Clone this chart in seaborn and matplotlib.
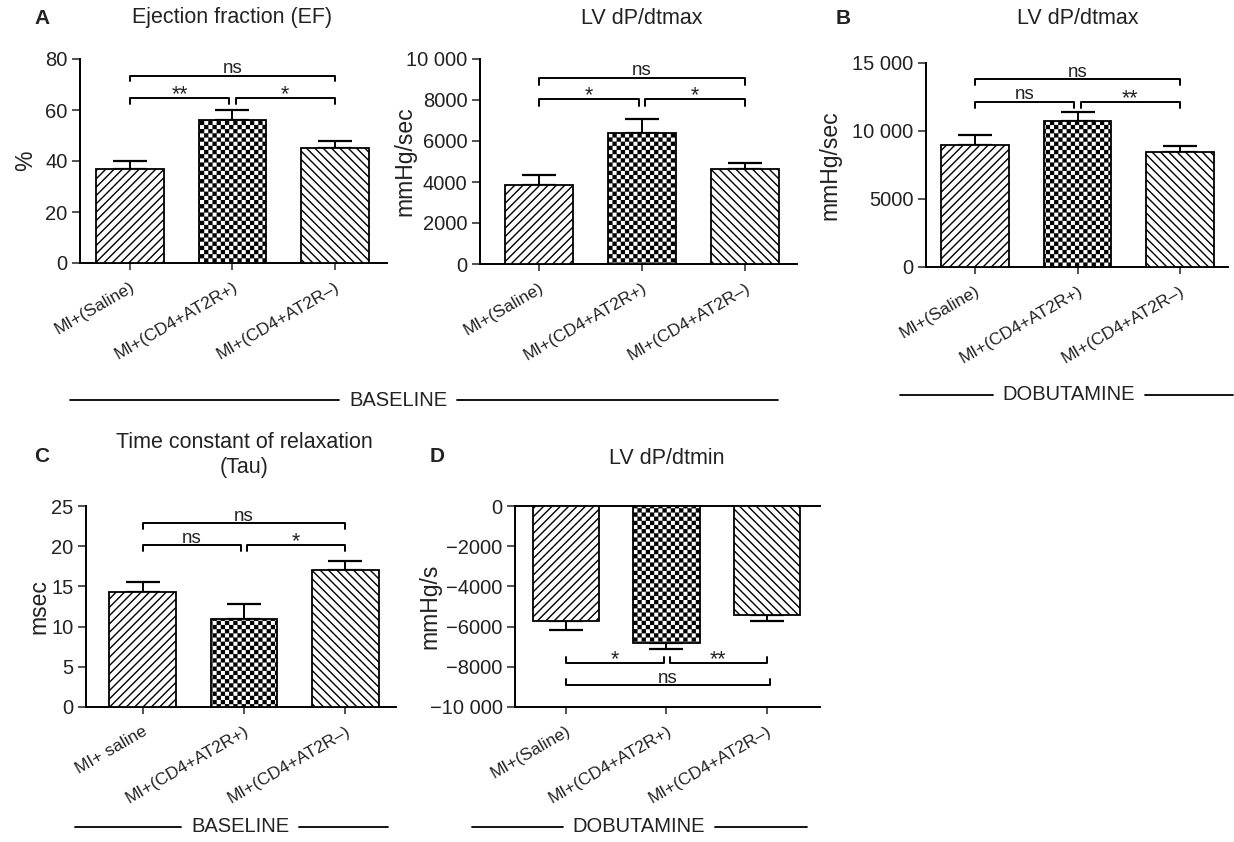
import warnings
import numpy as np
import pandas as pd
import matplotlib
matplotlib.use("Agg")
import matplotlib.pyplot as plt
from matplotlib import hatch as mhatch
from matplotlib import transforms
from matplotlib.path import Path
from matplotlib.lines import Line2D
import seaborn as sns

warnings.filterwarnings("ignore")

# ---------------------------------------------------------------------------
# data (mean and SEM)
groups = ["MI+(Saline)", "MI+(CD4+AT2R+)", "MI+(CD4+AT2R–)"]
groups_tau = ["MI+ saline", "MI+(CD4+AT2R+)", "MI+(CD4+AT2R–)"]

ef_mean = [37, 56, 45]
ef_sem = [3, 4, 3]

dpmax_base_mean = [3840, 6390, 4630]
dpmax_base_sem = [500, 700, 300]

dpmax_dob_mean = [8950, 10710, 8460]
dpmax_dob_sem = [730, 690, 440]

tau_mean = [14.3, 11.0, 17.0]
tau_sem = [1.2, 1.85, 1.2]

dpmin_dob_mean = [-5710, -6820, -5410]
dpmin_dob_sem = [450, 300, 300]

# significance annotations: (label, from, to, height)
sig_ef = [("**", 0, 0.97, 64.7), ("*", 1.03, 2, 64.7), ("ns", 0, 2, 73.5)]
sig_dpmax_base = [("*", 0, 0.97, 8050), ("*", 1.03, 2, 8050), ("ns", 0, 2, 9060)]
sig_dpmax_dob = [("ns", 0, 0.97, 12130), ("**", 1.03, 2, 12130), ("ns", 0, 2, 13800)]
sig_tau = [("ns", 0, 0.97, 20.1), ("*", 1.03, 2, 20.1), ("ns", 0, 2, 22.85)]
sig_dpmin_dob = [("*", 0, 0.98, -7815), ("**", 1.03, 2, -7815), ("ns", 0, 2.03, -8924)]


# ---------------------------------------------------------------------------
# checkerboard hatch ('c'), matplotlib has none built in
class CheckerHatch(mhatch.HatchPatternBase):
    def __init__(self, hatch, density):
        n = hatch.count("c") * density
        self.n = n + (n % 2)
        self.num_vertices = (self.n * self.n // 2) * 5

    def set_vertices_and_codes(self, vertices, codes):
        s = 1.0 / self.n
        pad = s * 0.15
        verts = []
        for i in range(self.n):
            for j in range(self.n):
                if (i + j) % 2 == 0:
                    x0, y0 = i * s + pad, j * s + pad
                    x1, y1 = (i + 1) * s - pad, (j + 1) * s - pad
                    verts += [(x0, y0), (x1, y0), (x1, y1), (x0, y1), (x0, y0)]
        vertices[:] = verts
        codes[:] = [Path.MOVETO, Path.LINETO, Path.LINETO, Path.LINETO,
                    Path.CLOSEPOLY] * (self.n * self.n // 2)


mhatch._hatch_types.append(CheckerHatch)
hatches = ["////", "cccc", "\\\\\\\\"]

sns.set_style("ticks")
plt.rcParams["font.family"] = ["Liberation Sans", "DejaVu Sans"]
plt.rcParams["hatch.linewidth"] = 1.0
plt.rcParams["text.color"] = "#222222"
plt.rcParams["axes.labelcolor"] = "#222222"
plt.rcParams["xtick.color"] = "#222222"
plt.rcParams["ytick.color"] = "#222222"

W, H = 1234, 842
fig = plt.figure(figsize=(W / 100, H / 100), dpi=100)


def rect(l, t, r, b):
    return [l / W, 1 - b / H, (r - l) / W, (b - t) / H]


def panel(box, xlim, labels, means, sems, ylim, yticks, yticklabels,
          ylabel, ylabel_x, sig, tip, title, title_y):
    ax = fig.add_axes(rect(*box))
    df = pd.DataFrame({"group": labels, "value": means})
    sns.barplot(data=df, x="group", y="value", ax=ax, color="white",
                saturation=1, edgecolor="black", linewidth=1.3, width=0.66,
                errorbar=None, zorder=3)
    for p, h in zip(ax.patches, hatches):
        p.set_hatch(h)

    means = np.asarray(means)
    sems = np.asarray(sems)
    zeros = np.zeros_like(sems)
    yerr = np.where(means >= 0, [zeros, sems], [sems, zeros])
    ax.errorbar(np.arange(len(means)), means, yerr=yerr, fmt="none",
                ecolor="black", elinewidth=1.4, capsize=12.5, capthick=1.6,
                zorder=2)

    for lab, x1, x2, y in sig:
        ax.plot([x1, x1, x2, x2], [y - tip, y, y, y - tip], color="black",
                lw=1.4, clip_on=False, zorder=4)
        if lab == "ns":
            ax.annotate(lab, xy=((x1 + x2) / 2, y), xytext=(0, 2),
                        textcoords="offset points", ha="center",
                        va="baseline", fontsize=13.5)
        else:
            ax.annotate(lab, xy=((x1 + x2) / 2, y), xytext=(0, -1.5),
                        textcoords="offset points", ha="center",
                        va="baseline", fontsize=15.5)

    ax.set_xlim(*xlim)
    ax.set_ylim(*ylim)
    ax.set_yticks(yticks)
    ax.set_yticklabels(yticklabels, fontsize=14.5)
    ax.set_xticks(range(len(labels)))
    ax.set_xticklabels(labels, rotation=30, ha="right", va="top",
                       rotation_mode="anchor", fontsize=12.5)
    ax.set_xlabel("")
    ax.set_ylabel(ylabel, fontsize=16.5, va="center")
    ax.yaxis.set_label_coords((ylabel_x - box[0]) / (box[2] - box[0]), 0.5)
    ax.tick_params(axis="y", length=6, width=1.1, pad=3)
    ax.tick_params(axis="x", length=5, width=1.1, pad=7)
    for s in ["left", "bottom", "top"]:
        ax.spines[s].set_linewidth(1.4)
        ax.spines[s].set_color("black")
    ax.spines["right"].set_visible(False)
    if ylim[1] > 0:
        ax.spines["top"].set_visible(False)

    tr = transforms.blended_transform_factory(ax.transData, fig.transFigure)
    ax.text(1, 1 - title_y / H, title, transform=tr, ha="center",
            va="center", fontsize=15.5, linespacing=1.2)
    return ax


panel((80, 59, 387, 263), (-0.49, 2.51), groups, ef_mean, ef_sem,
      (0, 80), [0, 20, 40, 60, 80], ["0", "20", "40", "60", "80"],
      "%", 26, sig_ef, 2.2, "Ejection fraction (EF)", 18)

panel((480, 59, 797, 264), (-0.57, 2.5), groups, dpmax_base_mean,
      dpmax_base_sem, (0, 10000), [0, 2000, 4000, 6000, 8000, 10000],
      ["0", "2000", "4000", "6000", "8000", "10 000"],
      "mmHg/sec", 405, sig_dpmax_base, 320, "LV dP/dtmax", 19)

panel((926, 63, 1228, 267), (-0.48, 2.47), groups, dpmax_dob_mean,
      dpmax_dob_sem, (0, 15000), [0, 5000, 10000, 15000],
      ["0", "5000", "10 000", "15 000"],
      "mmHg/sec", 830, sig_dpmax_dob, 440, "LV dP/dtmax", 19)

panel((86, 506, 396, 707), (-0.56, 2.5), groups_tau, tau_mean, tau_sem,
      (0, 25), [0, 5, 10, 15, 20, 25], ["0", "5", "10", "15", "20", "25"],
      "msec", 39, sig_tau, 0.75, "Time constant of relaxation\n(Tau)", 455)

panel((515, 506, 820, 707), (-0.51, 2.53), groups, dpmin_dob_mean,
      dpmin_dob_sem, (-10000, 0), [0, -2000, -4000, -6000, -8000, -10000],
      ["0", "−2000", "−4000", "−6000", "−8000", "−10 000"],
      "mmHg/s", 430, sig_dpmin_dob, -300, "LV dP/dtmin", 458)

# panel letters
for letter, x, y in [("A", 42, 18), ("B", 843, 18), ("C", 42, 457), ("D", 437, 457)]:
    fig.text(x / W, 1 - y / H, letter, ha="center", va="center",
             fontsize=15, fontweight="bold")

# condition labels with rules
conditions = [("BASELINE", 398, 400, 70, 778),
              ("DOBUTAMINE", 1069, 395, 900, 1233),
              ("BASELINE", 240, 827, 75, 388),
              ("DOBUTAMINE", 639, 827, 472, 807)]
fig.canvas.draw()
renderer = fig.canvas.get_renderer()
for label, xc, y, x0, x1 in conditions:
    t = fig.text(xc / W, 1 - y / H, label, ha="center", va="center", fontsize=14.5)
    bb = t.get_window_extent(renderer)
    gap = 10
    for a, b in [(x0, bb.x0 - gap), (bb.x1 + gap, x1)]:
        fig.add_artist(Line2D([a / W, b / W], [1 - y / H, 1 - y / H],
                              transform=fig.transFigure, color="black", lw=1.3))

fig.savefig("out.png", dpi=100)
